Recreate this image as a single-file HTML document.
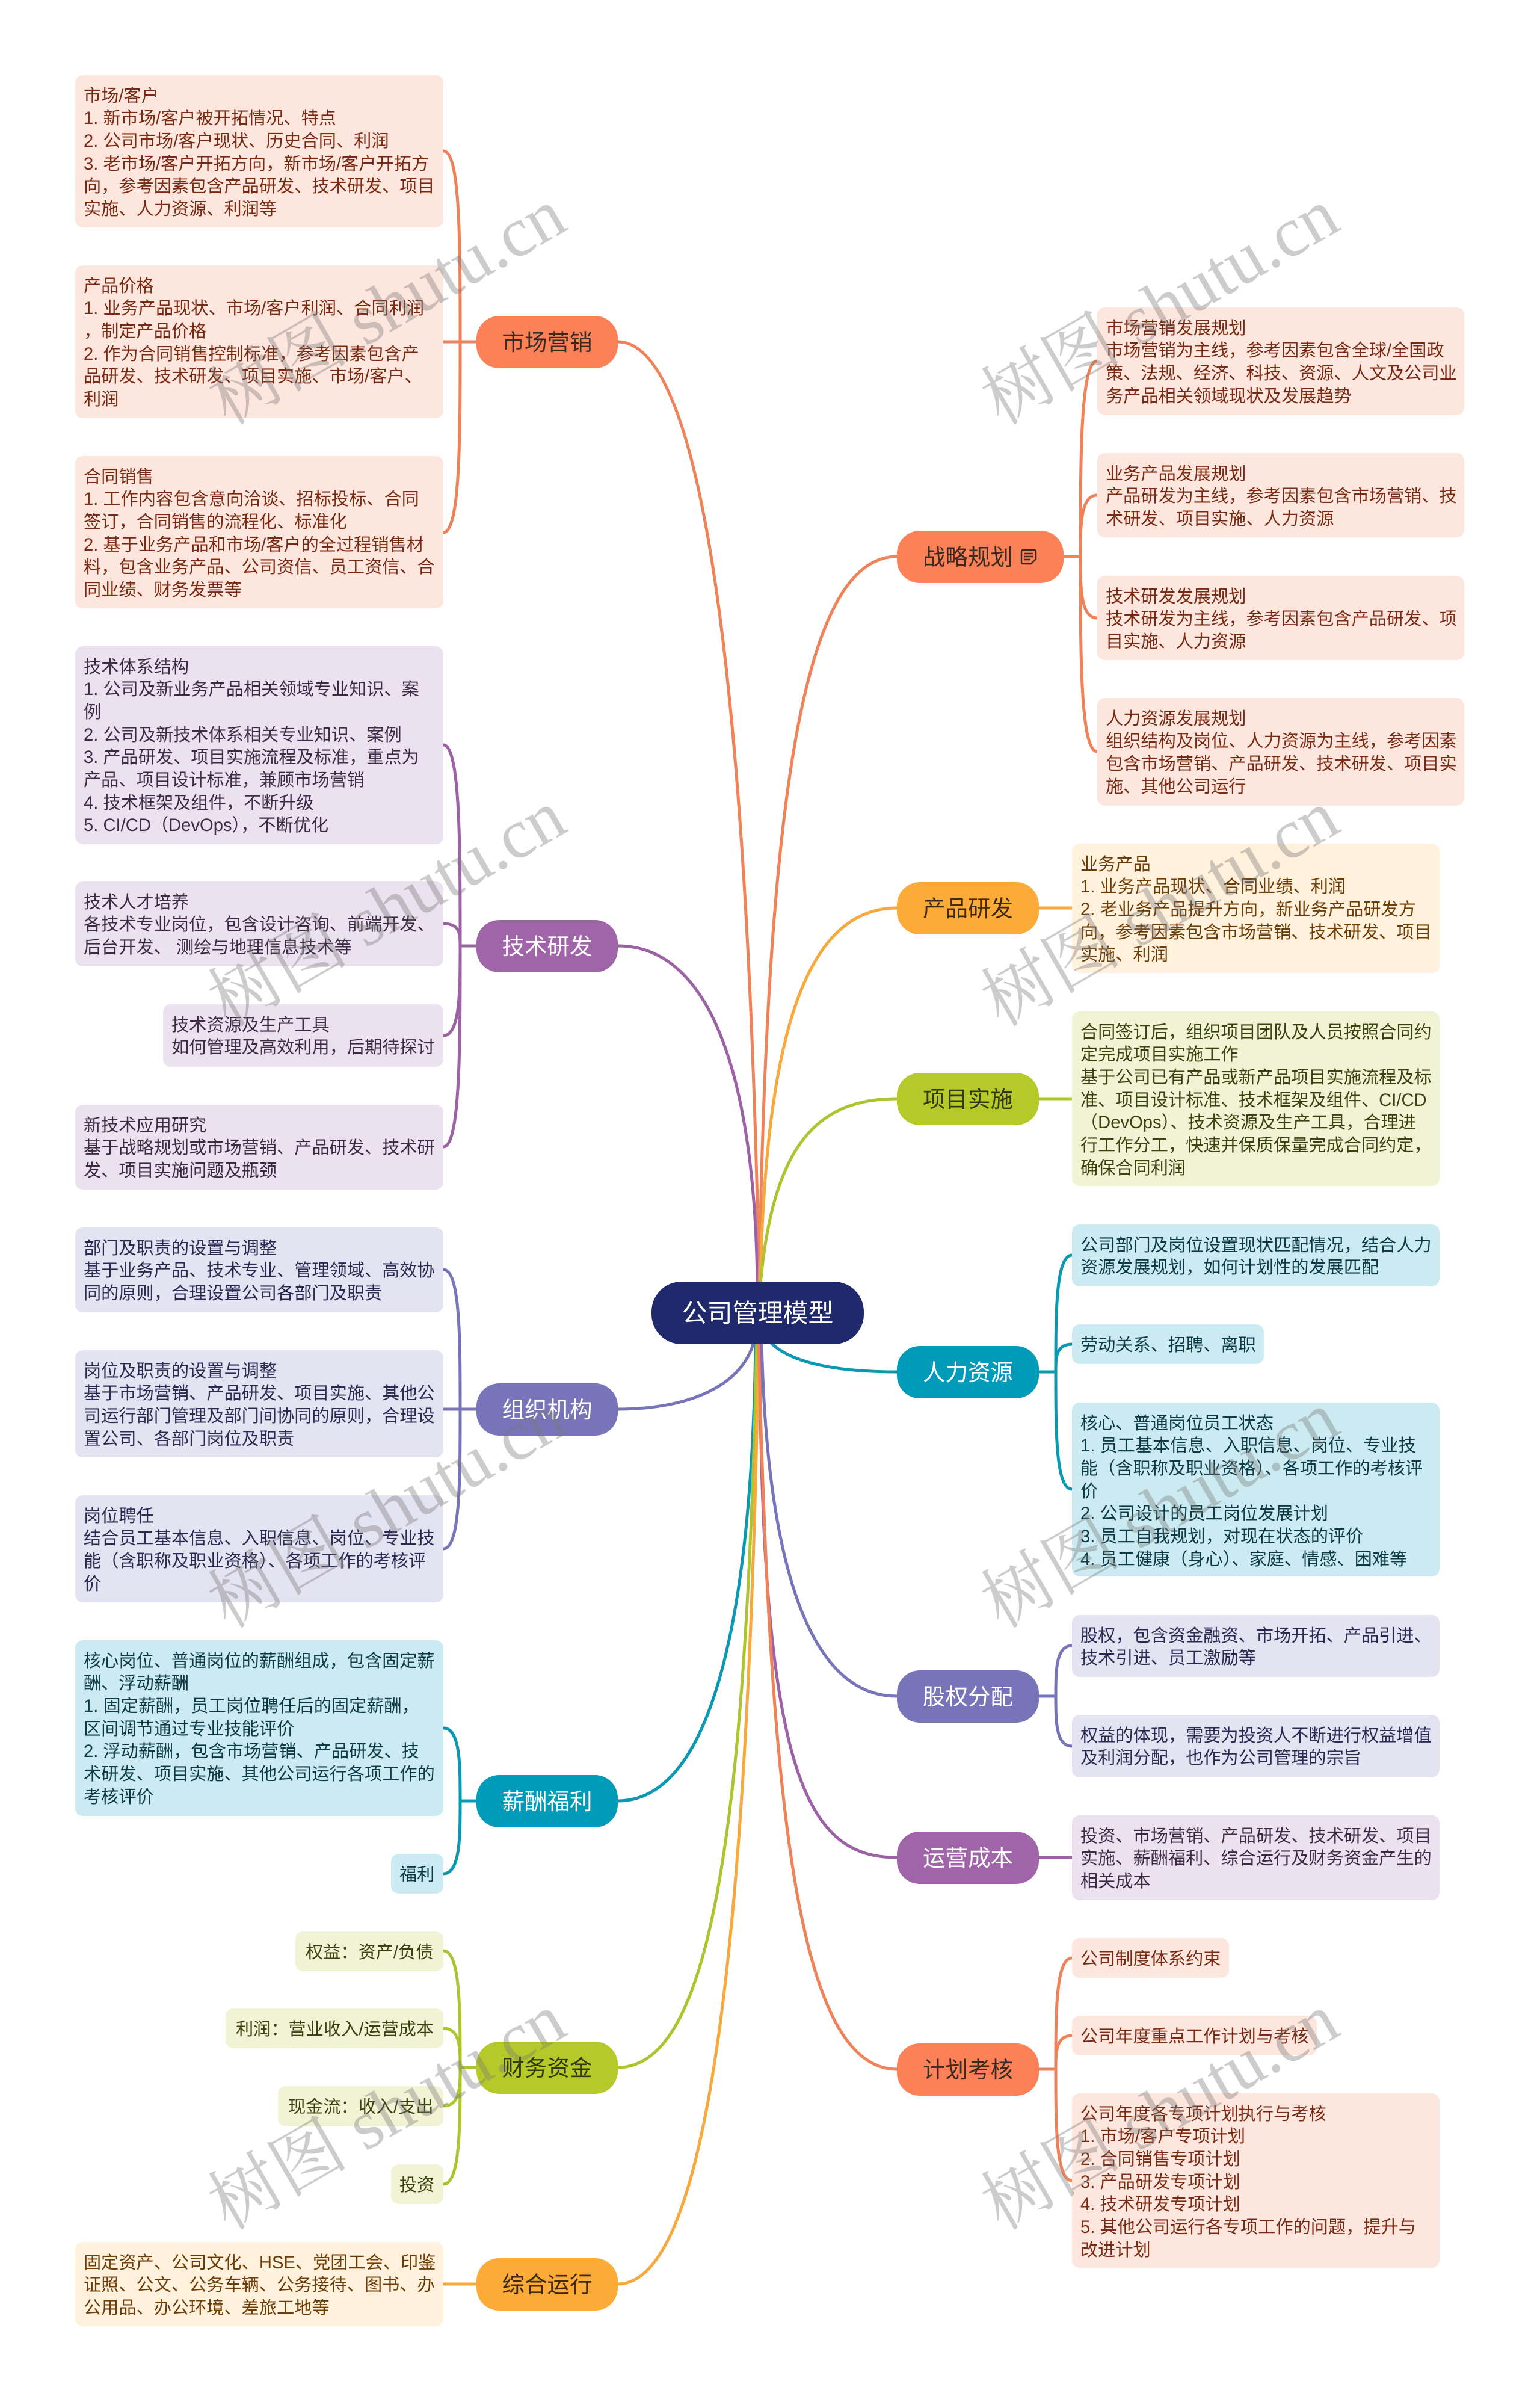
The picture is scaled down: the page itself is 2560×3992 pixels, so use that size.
<!DOCTYPE html>
<html lang="zh-CN">
<head>
<meta charset="utf-8">
<title>公司管理模型</title>
<style>
html,body{margin:0;padding:0;background:#fff}
body{width:2560px;height:3992px;position:relative;overflow:hidden;font-family:"Liberation Sans","Noto Sans CJK SC",sans-serif}
svg.l{position:absolute;left:0;top:0}
.b{position:absolute;box-sizing:border-box;padding:16.5px 0 0 14px;border-radius:13px;font-size:29.2px;line-height:37.7px;white-space:nowrap}
.n{position:absolute;box-sizing:border-box;border-radius:38px;height:87px;line-height:89px;font-size:37.5px;text-align:center;white-space:nowrap}
.o{background:#fde6dd;color:#7a2a12}
.p{background:#ece1ef;color:#3d2b45}
.v{background:#e4e3f1;color:#2b2a52}
.t{background:#cbeaf1;color:#0c3a46}
.g{background:#f0f4d5;color:#3b4210}
.a{background:#fff1dc;color:#6d3d08}
.no{background:#fc8156;color:#3a2a22}
.np{background:#a064a8;color:#fff}
.nv{background:#7874b9;color:#fff}
.nt{background:#009bb8;color:#fff}
.ng{background:#b5ca29;color:#33380e}
.na{background:#fdab38;color:#3e2a10}
.root{position:absolute;left:1083px;top:2130px;width:353px;height:104px;border-radius:50px;background:#20296b;color:#fff;font-size:42px;line-height:106px;text-align:center;white-space:nowrap}
.w{position:absolute;transform:translate(-50%,-50%) rotate(-30deg);font-family:"Liberation Serif","Noto Serif CJK SC",serif;font-size:117px;line-height:130px;color:rgba(120,120,120,.38);white-space:nowrap}
</style>
</head>
<body>
<svg class="l" width="2560" height="3992" viewBox="0 0 2560 3992" fill="none" stroke-width="5">
<!-- main -->
<path stroke="#ef8258" d="M1027,568 C1150,568 1240,1000 1262,2135"/>
<path stroke="#9c62a5" d="M1027,1572 C1185,1572 1255,1800 1259,2135"/>
<path stroke="#ef8258" d="M1491,925 C1340,925 1275,1300 1262,2135"/>
<path stroke="#f8a93e" d="M1491,1509 C1340,1509 1272,1720 1264,2135"/>
<path stroke="#adc42f" d="M1491,1826 C1360,1826 1285,1900 1264,2135"/>
<path stroke="#7874b9" d="M1027,2342 C1150,2342 1235,2300 1253,2230"/>
<path stroke="#0a98b3" d="M1491,2280 C1380,2280 1310,2262 1280,2230"/>
<path stroke="#0a98b3" d="M1027,2993 C1180,2993 1250,2700 1256,2230"/>
<path stroke="#adc42f" d="M1027,3436 C1180,3436 1240,3050 1258,2230"/>
<path stroke="#f8a93e" d="M1027,3796 C1180,3796 1245,3200 1261,2230"/>
<path stroke="#7874b9" d="M1491,2819 C1345,2819 1275,2600 1266,2230"/>
<path stroke="#9c62a5" d="M1491,3087 C1340,3087 1265,2950 1263,2230"/>
<path stroke="#ef8258" d="M1491,3439 C1325,3439 1280,3000 1261,2230"/>
<!-- left children -->
<g stroke="#ef8258">
<path d="M792,568 L737,568"/>
<path d="M765,568 C765,400 765,251 737,251"/>
<path d="M765,568 C765,726 765,885 737,885"/>
</g>
<g stroke="#9c62a5">
<path d="M792,1572 L765,1572"/>
<path d="M765,1572 C765,1405 765,1238 737,1238"/>
<path d="M765,1572 C765,1553 765,1535 737,1535"/>
<path d="M765,1572 C765,1646 765,1721 737,1721"/>
<path d="M765,1572 C765,1739 765,1906 737,1906"/>
</g>
<g stroke="#7874b9">
<path d="M792,2342 L737,2342"/>
<path d="M765,2342 C765,2226 765,2110 737,2110"/>
<path d="M765,2342 C765,2458 765,2574 737,2574"/>
</g>
<g stroke="#0a98b3">
<path d="M792,2993 L765,2993"/>
<path d="M765,2993 C765,2932 765,2872 737,2872"/>
<path d="M765,2993 C765,3053 765,3114 737,3114"/>
</g>
<g stroke="#adc42f">
<path d="M792,3436 L765,3436"/>
<path d="M765,3436 C765,3339 765,3242 737,3242"/>
<path d="M765,3436 C765,3403 765,3371 737,3371"/>
<path d="M765,3436 C765,3468 765,3500 737,3500"/>
<path d="M765,3436 C765,3533 765,3630 737,3630"/>
</g>
<path stroke="#f8a93e" d="M792,3796 L737,3796"/>
<!-- right children -->
<g stroke="#ef8258">
<path d="M1768,925 L1796,925"/>
<path d="M1796,925 C1796,762 1796,600 1824,600"/>
<path d="M1796,925 C1796,874 1796,823 1824,823"/>
<path d="M1796,925 C1796,976 1796,1027 1824,1027"/>
<path d="M1796,925 C1796,1087 1796,1249 1824,1249"/>
</g>
<path stroke="#f8a93e" d="M1727,1509 L1782,1509"/>
<path stroke="#adc42f" d="M1727,1826 L1782,1826"/>
<g stroke="#0a98b3">
<path d="M1727,2280 L1755,2280"/>
<path d="M1755,2280 C1755,2183 1755,2086 1782,2086"/>
<path d="M1755,2280 C1755,2257 1755,2234 1782,2234"/>
<path d="M1755,2280 C1755,2378 1755,2475 1782,2475"/>
</g>
<g stroke="#7874b9">
<path d="M1727,2819 L1755,2819"/>
<path d="M1755,2819 C1755,2777 1755,2735 1782,2735"/>
<path d="M1755,2819 C1755,2860 1755,2902 1782,2902"/>
</g>
<path stroke="#9c62a5" d="M1727,3087 L1782,3087"/>
<g stroke="#ef8258">
<path d="M1727,3439 L1755,3439"/>
<path d="M1755,3439 C1755,3346 1755,3254 1782,3254"/>
<path d="M1755,3439 C1755,3411 1755,3383 1782,3383"/>
<path d="M1755,3439 C1755,3531 1755,3624 1782,3624"/>
</g>
</svg>

<div class="root">公司管理模型</div>

<div class="n no" style="left:792px;top:525px;width:235px">市场营销</div>
<div class="n np" style="left:792px;top:1529px;width:235px">技术研发</div>
<div class="n nv" style="left:792px;top:2299px;width:235px">组织机构</div>
<div class="n nt" style="left:792px;top:2950px;width:235px">薪酬福利</div>
<div class="n ng" style="left:792px;top:3393px;width:235px">财务资金</div>
<div class="n na" style="left:792px;top:3753px;width:235px">综合运行</div>
<div class="n no" style="left:1491px;top:882px;width:277px;text-align:left;padding-left:43px">战略规划</div>
<svg class="l" style="left:1696px;top:912px" width="28" height="27" viewBox="0 0 28 27" fill="none" stroke="#3a2a22" stroke-width="2.4"><path d="M5,2 H23 Q26,2 26,5 V17 L18,25 H5 Q2,25 2,22 V5 Q2,2 5,2 Z"/><path d="M7,8 H21 M7,13 H21 M7,18 H17"/></svg>
<div class="n na" style="left:1491px;top:1466px;width:236px">产品研发</div>
<div class="n ng" style="left:1491px;top:1783px;width:236px">项目实施</div>
<div class="n nt" style="left:1491px;top:2237px;width:236px">人力资源</div>
<div class="n nv" style="left:1491px;top:2776px;width:236px">股权分配</div>
<div class="n np" style="left:1491px;top:3044px;width:236px">运营成本</div>
<div class="n no" style="left:1491px;top:3396px;width:236px">计划考核</div>

<div class="b o" style="left:125px;top:125px;width:612px;height:253px">市场/客户<br>1. 新市场/客户被开拓情况、特点<br>2. 公司市场/客户现状、历史合同、利润<br>3. 老市场/客户开拓方向，新市场/客户开拓方<br>向，参考因素包含产品研发、技术研发、项目<br>实施、人力资源、利润等</div>
<div class="b o" style="left:125px;top:441px;width:612px;height:254px">产品价格<br>1. 业务产品现状、市场/客户利润、合同利润<br>，制定产品价格<br>2. 作为合同销售控制标准，参考因素包含产<br>品研发、技术研发、项目实施、市场/客户、<br>利润</div>
<div class="b o" style="left:125px;top:758px;width:612px;height:253px">合同销售<br>1. 工作内容包含意向洽谈、招标投标、合同<br>签订，合同销售的流程化、标准化<br>2. 基于业务产品和市场/客户的全过程销售材<br>料，包含业务产品、公司资信、员工资信、合<br>同业绩、财务发票等</div>

<div class="b p" style="left:125px;top:1074px;width:612px;height:329px">技术体系结构<br>1. 公司及新业务产品相关领域专业知识、案<br>例<br>2. 公司及新技术体系相关专业知识、案例<br>3. 产品研发、项目实施流程及标准，重点为<br>产品、项目设计标准，兼顾市场营销<br>4. 技术框架及组件，不断升级<br>5. CI/CD（DevOps），不断优化</div>
<div class="b p" style="left:125px;top:1465px;width:612px;height:141px">技术人才培养<br>各技术专业岗位，包含设计咨询、前端开发、<br>后台开发、 测绘与地理信息技术等</div>
<div class="b p" style="left:271px;top:1669px;width:466px;height:104px">技术资源及生产工具<br>如何管理及高效利用，后期待探讨</div>
<div class="b p" style="left:125px;top:1836px;width:612px;height:141px">新技术应用研究<br>基于战略规划或市场营销、产品研发、技术研<br>发、项目实施问题及瓶颈</div>

<div class="b v" style="left:125px;top:2040px;width:612px;height:141px">部门及职责的设置与调整<br>基于业务产品、技术专业、管理领域、高效协<br>同的原则，合理设置公司各部门及职责</div>
<div class="b v" style="left:125px;top:2244px;width:612px;height:178px">岗位及职责的设置与调整<br>基于市场营销、产品研发、项目实施、其他公<br>司运行部门管理及部门间协同的原则，合理设<br>置公司、各部门岗位及职责</div>
<div class="b v" style="left:125px;top:2485px;width:612px;height:178px">岗位聘任<br>结合员工基本信息、入职信息、岗位、专业技<br>能（含职称及职业资格）、各项工作的考核评<br>价</div>

<div class="b t" style="left:125px;top:2726px;width:612px;height:292px">核心岗位、普通岗位的薪酬组成，包含固定薪<br>酬、浮动薪酬<br>1. 固定薪酬，员工岗位聘任后的固定薪酬，<br>区间调节通过专业技能评价<br>2. 浮动薪酬，包含市场营销、产品研发、技<br>术研发、项目实施、其他公司运行各项工作的<br>考核评价</div>
<div class="b t" style="left:650px;top:3081px;width:87px;height:66px">福利</div>

<div class="b g" style="left:491px;top:3210px;width:246px;height:66px;padding-left:17px">权益：资产/负债</div>
<div class="b g" style="left:375px;top:3338px;width:362px;height:66px;padding-left:17px">利润：营业收入/运营成本</div>
<div class="b g" style="left:462px;top:3467px;width:275px;height:67px;padding-left:17px">现金流：收入/支出</div>
<div class="b g" style="left:650px;top:3597px;width:87px;height:66px">投资</div>

<div class="b a" style="left:125px;top:3726px;width:612px;height:140px">固定资产、公司文化、HSE、党团工会、印鉴<br>证照、公文、公务车辆、公务接待、图书、办<br>公用品、办公环境、差旅工地等</div>

<div class="b o" style="left:1824px;top:511px;width:610px;height:179px">市场营销发展规划<br>市场营销为主线，参考因素包含全球/全国政<br>策、法规、经济、科技、资源、人文及公司业<br>务产品相关领域现状及发展趋势</div>
<div class="b o" style="left:1824px;top:753px;width:610px;height:140px">业务产品发展规划<br>产品研发为主线，参考因素包含市场营销、技<br>术研发、项目实施、人力资源</div>
<div class="b o" style="left:1824px;top:957px;width:610px;height:140px">技术研发发展规划<br>技术研发为主线，参考因素包含产品研发、项<br>目实施、人力资源</div>
<div class="b o" style="left:1824px;top:1160px;width:610px;height:179px">人力资源发展规划<br>组织结构及岗位、人力资源为主线，参考因素<br>包含市场营销、产品研发、技术研发、项目实<br>施、其他公司运行</div>

<div class="b a" style="left:1782px;top:1402px;width:611px;height:215px">业务产品<br>1. 业务产品现状、合同业绩、利润<br>2. 老业务产品提升方向，新业务产品研发方<br>向，参考因素包含市场营销、技术研发、项目<br>实施、利润</div>

<div class="b g" style="left:1782px;top:1681px;width:611px;height:290px">合同签订后，组织项目团队及人员按照合同约<br>定完成项目实施工作<br>基于公司已有产品或新产品项目实施流程及标<br>准、项目设计标准、技术框架及组件、CI/CD<br>（DevOps）、技术资源及生产工具，合理进<br>行工作分工，快速并保质保量完成合同约定，<br>确保合同利润</div>

<div class="b t" style="left:1782px;top:2035px;width:611px;height:103px">公司部门及岗位设置现状匹配情况，结合人力<br>资源发展规划，如何计划性的发展匹配</div>
<div class="b t" style="left:1782px;top:2201px;width:319px;height:66px">劳动关系、招聘、离职</div>
<div class="b t" style="left:1782px;top:2331px;width:611px;height:289px">核心、普通岗位员工状态<br>1. 员工基本信息、入职信息、岗位、专业技<br>能（含职称及职业资格）、各项工作的考核评<br>价<br>2. 公司设计的员工岗位发展计划<br>3. 员工自我规划，对现在状态的评价<br>4. 员工健康（身心）、家庭、情感、困难等</div>

<div class="b v" style="left:1782px;top:2684px;width:611px;height:103px">股权，包含资金融资、市场开拓、产品引进、<br>技术引进、员工激励等</div>
<div class="b v" style="left:1782px;top:2850px;width:611px;height:104px">权益的体现，需要为投资人不断进行权益增值<br>及利润分配，也作为公司管理的宗旨</div>

<div class="b p" style="left:1782px;top:3017px;width:611px;height:141px">投资、市场营销、产品研发、技术研发、项目<br>实施、薪酬福利、综合运行及财务资金产生的<br>相关成本</div>

<div class="b o" style="left:1782px;top:3221px;width:261px;height:66px">公司制度体系约束</div>
<div class="b o" style="left:1782px;top:3350px;width:407px;height:66px">公司年度重点工作计划与考核</div>
<div class="b o" style="left:1782px;top:3479px;width:611px;height:290px">公司年度各专项计划执行与考核<br>1. 市场/客户专项计划<br>2. 合同销售专项计划<br>3. 产品研发专项计划<br>4. 技术研发专项计划<br>5. 其他公司运行各专项工作的问题，提升与<br>改进计划</div>

<div class="w" style="left:644px;top:511px">树图 shutu.cn</div>
<div class="w" style="left:644px;top:1511px">树图 shutu.cn</div>
<div class="w" style="left:644px;top:2511px">树图 shutu.cn</div>
<div class="w" style="left:644px;top:3511px">树图 shutu.cn</div>
<div class="w" style="left:1929px;top:511px">树图 shutu.cn</div>
<div class="w" style="left:1929px;top:1511px">树图 shutu.cn</div>
<div class="w" style="left:1929px;top:2511px">树图 shutu.cn</div>
<div class="w" style="left:1929px;top:3511px">树图 shutu.cn</div>
</body>
</html>
